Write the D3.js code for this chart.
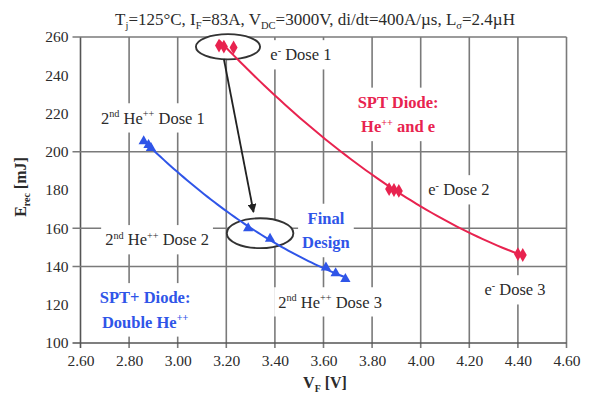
<!DOCTYPE html>
<html>
<head>
<meta charset="utf-8">
<script src="https://cdn.jsdelivr.net/npm/d3@7"></script>
<style>
  html, body { margin: 0; padding: 0; background: #fff; }
  svg { display: block; }
</style>
</head>
<body>
<script>
// SPT diode, He++ and electron irradiation: forward voltage vs. recovery energy
const sptDose = [1, 1, 1, 2, 2, 2, 3, 3];
const sptVf   = [3.17, 3.19, 3.23, 3.87, 3.89, 3.91, 4.40, 4.42];
const sptErec = [255.5, 255, 254.5, 180.5, 180, 179.5, 146.5, 146];

// SPT+ diode, double He++ irradiation
const sptPlusDose = [1, 1, 1, 2, 2, 3, 3, 3];
const sptPlusVf   = [2.86, 2.88, 2.89, 3.29, 3.38, 3.61, 3.65, 3.69];
const sptPlusErec = [205.5, 203.5, 202, 160, 154.5, 139.5, 136.5, 133.5];

// Axis ticks
const xTicks = [2.60, 2.80, 3.00, 3.20, 3.40, 3.60, 3.80, 4.00, 4.20, 4.40, 4.60];
const yTicks = [100, 120, 140, 160, 180, 200, 220, 240, 260];
const yGridValues = [100, 140, 160, 200, 260];

const W = 590, H = 399;
const RED = "#e8234f", BLUE = "#2f55e8", GRID = "#7a7a7a", INK = "#2b2b2b";
const FONT = "'Liberation Serif', 'Times New Roman', serif";

const svg = d3.select("body").append("svg")
  .attr("width", W).attr("height", H)
  .attr("font-family", FONT);

const x = d3.scaleLinear().domain([2.6, 4.6]).range([80.5, 566.5]);
const y = d3.scaleLinear().domain([100, 260]).range([343, 37]);

// Text with sub/superscript runs: segments are [text, "sup" | "sub" | undefined]
function richText(sel, segments, size) {
  const small = size * 0.62;
  let shift = 0;
  segments.forEach(([t, kind]) => {
    const target = kind === "sup" ? -size * 0.38 : kind === "sub" ? size * 0.22 : 0;
    sel.append("tspan")
      .attr("dy", target - shift)
      .attr("font-size", kind ? small : size)
      .text(t);
    shift = target;
  });
  return sel;
}

// ---- grid ----
const grid = svg.append("g");
grid.selectAll("line.v").data(xTicks).join("line")
  .attr("x1", d => x(d)).attr("x2", d => x(d))
  .attr("y1", y(260)).attr("y2", y(100) + 5)
  .attr("stroke", d => d === 2.6 ? "#555" : GRID)
  .attr("stroke-width", 1.6);
grid.selectAll("line.h").data(yGridValues).join("line")
  .attr("x1", x(2.6) - 8).attr("x2", x(4.6))
  .attr("y1", d => y(d)).attr("y2", d => y(d))
  .attr("stroke", d => d === 100 ? "#555" : GRID)
  .attr("stroke-width", 1.6);

// ---- axes (labels only; lines come from the grid) ----
const xAxis = svg.append("g")
  .attr("transform", `translate(0,${y(100)})`)
  .call(d3.axisBottom(x).tickValues(xTicks).tickFormat(d3.format(".2f")).tickSize(0).tickPadding(12));
const yAxis = svg.append("g")
  .attr("transform", `translate(${x(2.6)},0)`)
  .call(d3.axisLeft(y).tickValues(yTicks).tickFormat(d3.format("d")).tickSize(0).tickPadding(12));
[xAxis, yAxis].forEach(a => {
  a.select(".domain").remove();
  a.selectAll("text").attr("font-family", FONT).attr("font-size", 15.5).attr("fill", INK);
});

// axis titles
richText(svg.append("text").attr("x", 325).attr("y", 388)
  .attr("text-anchor", "middle").attr("font-weight", "bold").attr("fill", INK),
  [["V"], ["F", "sub"], [" [V]"]], 16);
richText(svg.append("text").attr("transform", "translate(26,187) rotate(-90)")
  .attr("text-anchor", "middle").attr("font-weight", "bold").attr("fill", INK),
  [["E"], ["rec", "sub"], [" [mJ]"]], 16);

// title
richText(svg.append("text").attr("x", 315).attr("y", 25)
  .attr("text-anchor", "middle").attr("fill", INK),
  [["T"], ["j", "sub"], ["=125°C, I"], ["F", "sub"], ["=83A, V"], ["DC", "sub"],
   ["=3000V, di/dt=400A/µs, L"], ["σ", "sub"], ["=2.4µH"]], 17);

// ---- annotation text boxes (white filled, sit above the grid) ----
const labels = [
  { vf: 3.507, e: 250.6, color: INK, lines: [[["e"], ["-", "sup"], [" Dose 1"]]] },
  { vf: 3.907, e: 219.5, color: RED, bold: true, lines: [[["SPT Diode:"]], [["He"], ["++", "sup"], [" and e"]]] },
  { vf: 2.898, e: 217.6, color: INK, lines: [[["2"], ["nd", "sup"], [" He"], ["++", "sup"], [" Dose 1"]]] },
  { vf: 4.157, e: 180.0, color: INK, lines: [[["e"], ["-", "sup"], [" Dose 2"]]] },
  { vf: 2.915, e: 153.9, color: INK, lines: [[["2"], ["nd", "sup"], [" He"], ["++", "sup"], [" Dose 2"]]] },
  { vf: 3.610, e: 158.8, color: BLUE, bold: true, lines: [[["Final"]], [["Design"]]] },
  { vf: 2.866, e: 117.3, color: BLUE, bold: true, lines: [[["SPT+ Diode:"]], [["Double He"], ["++", "sup"]]] },
  { vf: 3.627, e: 121.4, color: INK, lines: [[["2"], ["nd", "sup"], [" He"], ["++", "sup"], [" Dose 3"]]] },
  { vf: 4.388, e: 127.7, color: INK, lines: [[["e"], ["-", "sup"], [" Dose 3"]]] }
];
const LINE_H = 24.5;

const boxLayer = svg.append("g");
const ellipseLayer = svg.append("g");
const dataLayer = svg.append("g");
const textLayer = svg.append("g");

labels.forEach(l => {
  const fs = l.bold ? 16.5 : 16.5;
  const cx = x(l.vf), cy = y(l.e);
  const n = l.lines.length;
  const g = textLayer.append("g");
  l.lines.forEach((segs, i) => {
    const t = g.append("text")
      .attr("x", cx)
      .attr("y", cy + (i - (n - 1) / 2) * LINE_H + fs * 0.33)
      .attr("text-anchor", "middle")
      .attr("fill", l.color)
      .attr("font-weight", l.bold ? "bold" : null);
    richText(t, segs, fs);
  });
  const bb = g.node().getBBox();
  boxLayer.append("rect")
    .attr("x", bb.x - 4).attr("y", bb.y - 5)
    .attr("width", bb.width + 8).attr("height", bb.height + 10)
    .attr("fill", "#fff");
});

// ---- highlight ellipses ----
const rings = [
  { vf: 3.207, e: 254.9, rvf: 0.132, re: 6.6 },
  { vf: 3.339, e: 157.4, rvf: 0.137, re: 7.8 }
];
ellipseLayer.selectAll("ellipse").data(rings).join("ellipse")
  .attr("cx", d => x(d.vf)).attr("cy", d => y(d.e))
  .attr("rx", d => x(d.vf + d.rvf) - x(d.vf))
  .attr("ry", d => y(d.e - d.re) - y(d.e))
  .attr("fill", "#fff").attr("stroke", "#333").attr("stroke-width", 1.9);

// ---- quadratic least-squares trend through each series ----
function quadFit(xs, ys) {
  const m = d3.mean(xs);
  const u = xs.map(v => v - m);
  const S = k => d3.sum(u, v => Math.pow(v, k));
  const T = k => d3.sum(u, (v, i) => Math.pow(v, k) * ys[i]);
  const A = [[S(4), S(3), S(2)], [S(3), S(2), S(1)], [S(2), S(1), xs.length]];
  const B = [T(2), T(1), T(0)];
  const det = M => M[0][0] * (M[1][1] * M[2][2] - M[1][2] * M[2][1])
                 - M[0][1] * (M[1][0] * M[2][2] - M[1][2] * M[2][0])
                 + M[0][2] * (M[1][0] * M[2][1] - M[1][1] * M[2][0]);
  const D = det(A);
  const coef = [0, 1, 2].map(c => det(A.map((row, r) => row.map((v, j) => j === c ? B[r] : v))) / D);
  return v => coef[0] * (v - m) ** 2 + coef[1] * (v - m) + coef[2];
}
function trend(xs, ys, color) {
  const f = quadFit(xs, ys);
  const [lo, hi] = d3.extent(xs);
  const pts = d3.range(0, 61).map(i => lo + (hi - lo) * i / 60).map(v => [v, f(v)]);
  dataLayer.append("path")
    .attr("d", d3.line().x(d => x(d[0])).y(d => y(d[1]))(pts))
    .attr("fill", "none").attr("stroke", color).attr("stroke-width", 2);
}
trend(sptVf, sptErec, RED);
trend(sptPlusVf, sptPlusErec, BLUE);

// ---- markers ----
dataLayer.selectAll("path.spt").data(sptVf.map((v, i) => [v, sptErec[i], sptDose[i]])).join("path")
  .attr("class", "spt")
  .attr("transform", d => `translate(${x(d[0])},${y(d[1])})`)
  .attr("d", d3.symbol(d3.symbolDiamond, 55))
  .attr("fill", RED);
dataLayer.selectAll("path.sptp").data(sptPlusVf.map((v, i) => [v, sptPlusErec[i], sptPlusDose[i]])).join("path")
  .attr("class", "sptp")
  .attr("transform", d => `translate(${x(d[0])},${y(d[1])})`)
  .attr("d", d3.symbol(d3.symbolTriangle, 46))
  .attr("fill", BLUE);

// ---- arrow from the first design point to the final design ----
svg.append("defs").append("marker")
  .attr("id", "head").attr("viewBox", "0 0 10 10")
  .attr("refX", 9).attr("refY", 5)
  .attr("markerWidth", 5).attr("markerHeight", 5)
  .attr("orient", "auto")
  .append("path").attr("d", "M0,0 L10,5 L0,10 z").attr("fill", "#222");
dataLayer.append("line")
  .attr("x1", x(3.19)).attr("y1", y(248.5))
  .attr("x2", x(3.312)).attr("y2", y(168.5))
  .attr("stroke", "#222").attr("stroke-width", 1.8)
  .attr("marker-end", "url(#head)");
</script>
</body>
</html>
